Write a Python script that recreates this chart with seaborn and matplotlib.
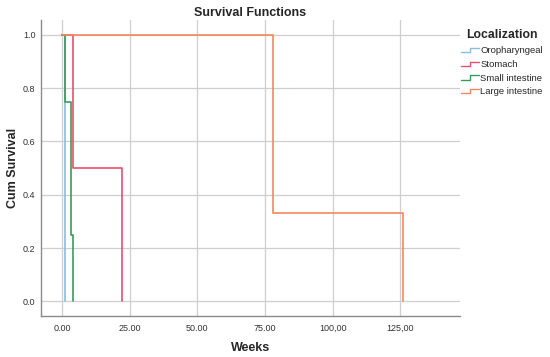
import pandas as pd
import seaborn as sns
import matplotlib.pyplot as plt
from matplotlib.lines import Line2D
from matplotlib.legend_handler import HandlerBase

# data (Kaplan-Meier steps)
groups = ["Oropharyngeal", "Stomach", "Small intestine", "Large intestine"]
oro_weeks = [0, 1.1]
oro_surv = [1.0, 0.0]
stomach_weeks = [0, 4.0, 22.0]
stomach_surv = [1.0, 0.5, 0.0]
small_weeks = [0, 0.9, 3.2, 4.0]
small_surv = [1.0, 0.75, 0.25, 0.0]
large_weeks = [0, 78.0, 126.0]
large_surv = [1.0, 0.333, 0.0]

x_ticks = [0, 25, 50, 75, 100, 125]
x_labels = ["0.00", "25.00", "50.00", "75.00", "100,00", "125,00"]
y_ticks = [0.0, 0.2, 0.4, 0.6, 0.8, 1.0]
y_labels = ["0.0", "0.2", "0.4", "0.6", "0.8", "1.0"]

colors = {"Oropharyngeal": "#86bfe3", "Stomach": "#e6506f",
          "Small intestine": "#3b9a5c", "Large intestine": "#f5875f"}

frames = []
for name, w, s in zip(groups,
                      [oro_weeks, stomach_weeks, small_weeks, large_weeks],
                      [oro_surv, stomach_surv, small_surv, large_surv]):
    frames.append(pd.DataFrame({"Weeks": w, "Survival": s, "Localization": name}))
df = pd.concat(frames, ignore_index=True)


# legend key drawn as a small step, like the SPSS legend
class StepHandler(HandlerBase):
    def create_artists(self, legend, orig_handle, xdescent, ydescent,
                       width, height, fontsize, trans):
        x0, x1 = -xdescent, -xdescent + width
        xm = x0 + width * 0.5
        ylo = -ydescent + height * 0.15
        yhi = -ydescent + height * 0.8
        line = Line2D([x0, xm, xm, x1], [ylo, ylo, yhi, yhi],
                      color=orig_handle.get_color(), linewidth=1.0,
                      transform=trans)
        return [line]


sns.set_style("white")
plt.rcParams['font.family'] = ['Liberation Sans', 'DejaVu Sans']

fig = plt.figure(figsize=(5.5, 3.57), dpi=100)
ax = fig.add_axes([0.0745, 0.115, 0.7615, 0.829])

sns.lineplot(data=df, x="Weeks", y="Survival", hue="Localization",
             hue_order=groups, palette=colors, estimator=None, sort=True,
             drawstyle="steps-post", linewidth=1.2, ax=ax)

ax.set_xlim(-7.8, 147)
ax.set_ylim(-0.055, 1.056)
ax.set_xticks(x_ticks)
ax.set_xticklabels(x_labels)
ax.set_yticks(y_ticks)
ax.set_yticklabels(y_labels)
ax.tick_params(axis="x", labelsize=6.5, colors="#333333", length=0, pad=6)
ax.tick_params(axis="y", labelsize=6.5, colors="#333333", length=0, pad=4)
ax.grid(True, color="#cfcfcf", linewidth=0.9)
ax.set_axisbelow(True)
for side in ["top", "right"]:
    ax.spines[side].set_visible(False)
for side in ["left", "bottom"]:
    ax.spines[side].set_color("#8a8a8a")
    ax.spines[side].set_linewidth(1.0)

ax.set_title("Survival Functions", fontsize=9, fontweight="bold", pad=3)
ax.set_xlabel("Weeks", fontsize=9, fontweight="bold", labelpad=6)
ax.set_ylabel("Cum Survival", fontsize=9, fontweight="bold", labelpad=3)

handles, labels = ax.get_legend_handles_labels()
leg = ax.legend(handles, labels, title="Localization", loc="upper left",
                bbox_to_anchor=(1.003, 0.968), frameon=False, fontsize=6.8,
                title_fontsize=8.8, handlelength=1.9, handletextpad=0.15,
                labelspacing=0.5, borderaxespad=0, borderpad=0,
                handler_map={Line2D: StepHandler()})
leg.get_title().set_fontweight("bold")
leg._legend_box.align = "center"

fig.savefig("out.png", dpi=100)
